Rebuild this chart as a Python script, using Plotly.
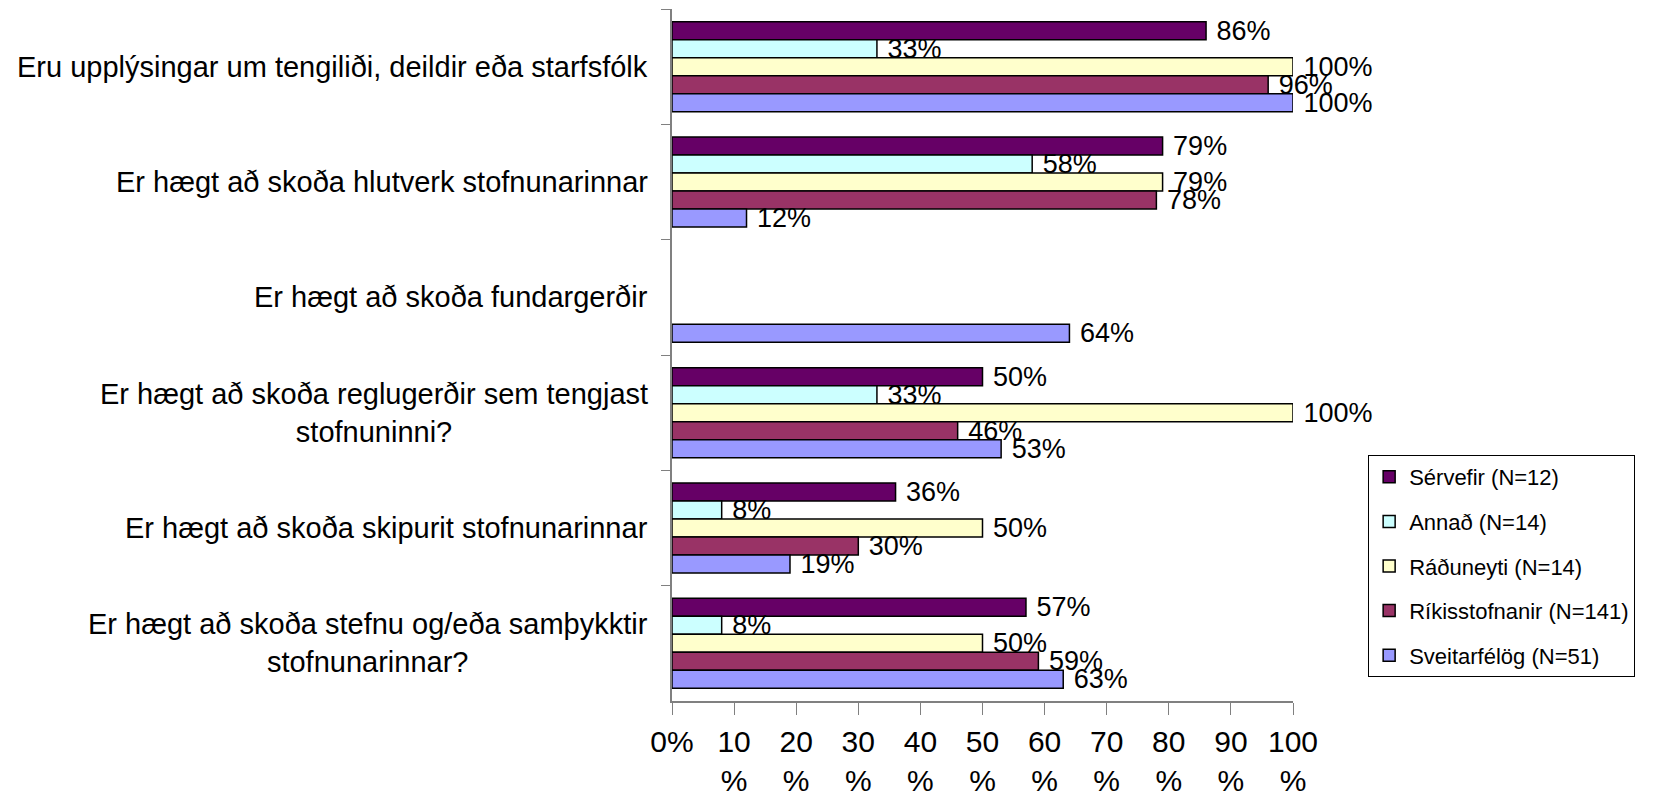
import plotly.graph_objects as go

# spurningar (flokkar), efst til neðst
categories = [
    'Eru upplýsingar um tengiliði, deildir eða starfsfólk',
    'Er hægt að skoða hlutverk stofnunarinnar',
    'Er hægt að skoða fundargerðir',
    'Er hægt að skoða reglugerðir sem tengjast<br>stofnuninni?',
    'Er hægt að skoða skipurit stofnunarinnar',
    'Er hægt að skoða stefnu og/eða samþykktir<br>stofnunarinnar?',
]

series_names = ['Sérvefir (N=12)', 'Annað (N=14)', 'Ráðuneyti (N=14)',
                'Ríkisstofnanir (N=141)', 'Sveitarfélög (N=51)']
series_colors = ['#660066', '#CCFFFF', '#FFFFCC', '#993366', '#9999FF']

servefir = [86, 79, None, 50, 36, 57]
annad = [33, 58, None, 33, 8, 8]
raduneyti = [100, 79, None, 100, 50, 50]
rikisstofnanir = [96, 78, None, 46, 30, 59]
sveitarfelog = [100, 12, 64, 53, 19, 63]

tick_vals = [0, 10, 20, 30, 40, 50, 60, 70, 80, 90, 100]
tick_text = ['0%', '10<br>%', '20<br>%', '30<br>%', '40<br>%', '50<br>%',
             '60<br>%', '70<br>%', '80<br>%', '90<br>%', '100<br>%']

FONT = 'Liberation Sans, Arial, sans-serif'

fig = go.Figure()
for name, color, vals in zip(series_names, series_colors,
                             [servefir, annad, raduneyti, rikisstofnanir, sveitarfelog]):
    fig.add_trace(go.Bar(
        y=categories,
        x=vals,
        name=name,
        orientation='h',
        legendgroup=name,
        marker=dict(color=color, line=dict(color='black', width=1.5)),
        # bil á undan gildinu, eins og í frumritinu
        text=[f'\u00a0{v}%' if v is not None else '' for v in vals],
        textposition='outside',
        textfont=dict(family=FONT, size=27, color='black'),
        constraintext='none',
        cliponaxis=False,
    ))

# flokkaheiti sem texti vinstra megin
for cat in categories:
    fig.add_annotation(
        x=0, xref='paper', y=cat, yref='y',
        text=cat, showarrow=False,
        xanchor='right', align='center', xshift=-22,
        font=dict(family=FONT, size=29, color='black'),
    )

# síðan hefur 8px spássíu í vafranum, því er myndin aðeins mjórri
fig.update_layout(
    width=1650,
    height=785,
    margin=dict(l=664, r=365, t=1, b=92),
    paper_bgcolor='white',
    plot_bgcolor='white',
    barmode='group',
    bargap=0.22,
    bargroupgap=0,
    font=dict(family=FONT, size=26, color='black'),
    legend=dict(
        x=1.121, y=0.3555, xanchor='left', yanchor='top',
        bordercolor='black', borderwidth=1,
        font=dict(family=FONT, size=22, color='black'),
        tracegroupgap=13,
        itemwidth=30,
        traceorder='grouped',
    ),
)

fig.update_xaxes(
    range=[0, 100],
    tickvals=tick_vals,
    ticktext=tick_text,
    ticks='outside', ticklen=12, tickcolor='#808080',
    ticklabelstandoff=1,
    automargin=False,
    showline=True, linecolor='#808080', linewidth=1.5,
    showgrid=False, zeroline=False,
    tickfont=dict(family=FONT, size=30),
)
fig.update_yaxes(
    autorange='reversed',
    showticklabels=False,
    automargin=False,
    ticks='outside', ticklen=9, tickcolor='#808080',
    tickson='boundaries',
    showline=True, linecolor='#808080', linewidth=1.5,
    showgrid=False,
)

fig.write_html("out.html")
